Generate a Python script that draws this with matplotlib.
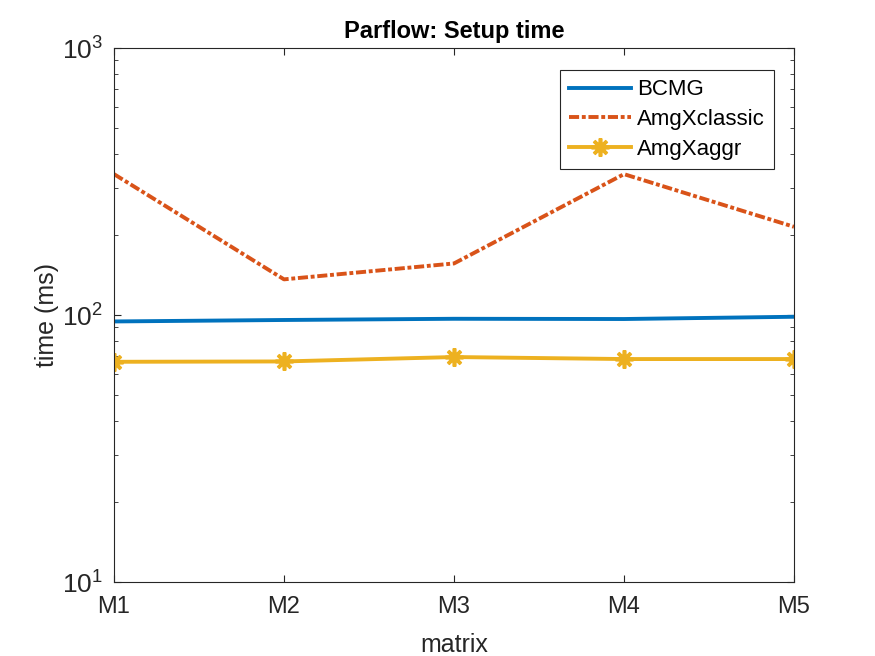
import numpy as np
import matplotlib.pyplot as plt
from matplotlib.ticker import LogLocator, NullFormatter

plt.rcParams['font.family'] = ['Liberation Sans', 'DejaVu Sans']
plt.rcParams['mathtext.fontset'] = 'custom'
plt.rcParams['mathtext.rm'] = 'Liberation Sans'

matrices = ["M1", "M2", "M3", "M4", "M5"]
bcmg = [94.6, 95.8, 96.8, 96.6, 98.5]
amgx_classic = [337, 136, 156, 337, 214]
amgx_aggr = [66.8, 67.0, 69.6, 68.4, 68.4]

x = np.arange(1, len(matrices) + 1)
dark = (0.15, 0.15, 0.15)

fig = plt.figure(figsize=(8.75, 6.56), dpi=100)
ax = fig.add_axes([0.1303, 0.1128, 0.7771, 0.814])

ax.plot(x, bcmg, color=(0, 0.447, 0.741), lw=2.8, label="BCMG")
ax.plot(x, amgx_classic, color=(0.85, 0.325, 0.098), lw=2.8, ls=(0, (2.6, 0.7, 1, 0.7)), label="AmgXclassic")
ax.plot(x, amgx_aggr, color=(0.929, 0.694, 0.125), lw=2.8, marker=(8, 2, 0), ms=13, mew=2.6,
        label="AmgXaggr")

ax.set_yscale("log")
ax.set_ylim(10, 1000)
ax.set_xlim(1, 5)
ax.set_xticks(x)
ax.set_xticklabels(matrices)
ax.yaxis.set_minor_locator(LogLocator(base=10, subs=np.arange(2, 10)))
ax.yaxis.set_minor_formatter(NullFormatter())
ax.tick_params(which="both", direction="in", top=True, right=True,
               color=dark, labelcolor=dark)
ax.tick_params(which="major", length=5)
ax.tick_params(which="minor", length=3)
ax.tick_params(axis="x", which="minor", bottom=False, top=False)
ax.tick_params(axis="x", pad=10, labelsize=17)
ax.tick_params(axis="y", pad=8, labelsize=19)
for s in ax.spines.values():
    s.set_color(dark)

ax.set_xlabel("matrix", fontsize=18, color=dark, labelpad=11)
ax.set_ylabel("time (ms)", fontsize=18, color=dark, labelpad=2)
ax.set_title("Parflow: Setup time", fontsize=17, fontweight="bold", pad=7)

leg = ax.legend(loc="upper right", bbox_to_anchor=(0.97, 0.958), fontsize=16, fancybox=False,
                framealpha=1, edgecolor=dark, borderaxespad=0, handlelength=2.8,
                handletextpad=0.25, borderpad=0.4, labelspacing=0.4)
leg.get_frame().set_linewidth(0.8)

fig.savefig("out.png", dpi=100)
